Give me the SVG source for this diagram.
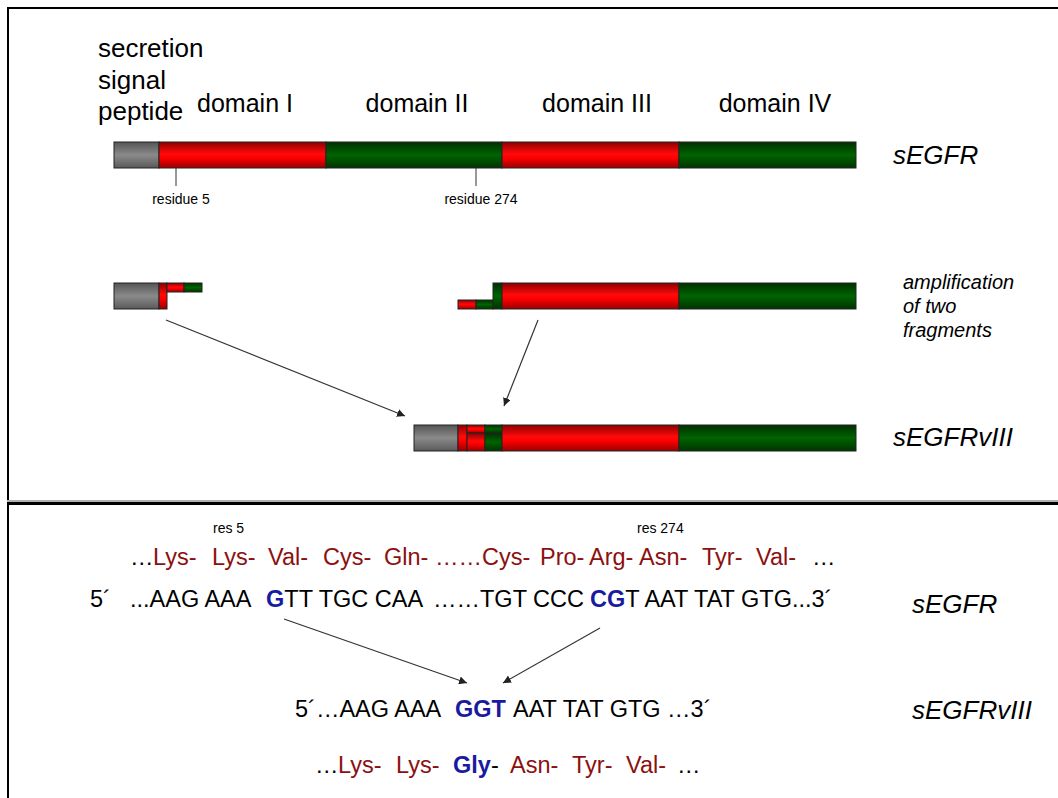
<svg xmlns="http://www.w3.org/2000/svg" width="1058" height="798" viewBox="0 0 1058 798">
<defs>
<linearGradient id="gRed" x1="0" y1="0" x2="0" y2="1">
<stop offset="0" stop-color="#8e0000"/><stop offset="0.45" stop-color="#ff0a0a"/><stop offset="0.6" stop-color="#ff0000"/><stop offset="1" stop-color="#9a0000"/>
</linearGradient>
<linearGradient id="gGreen" x1="0" y1="0" x2="0" y2="1">
<stop offset="0" stop-color="#003000"/><stop offset="0.5" stop-color="#006400"/><stop offset="1" stop-color="#003400"/>
</linearGradient>
<linearGradient id="gGray" x1="0" y1="0" x2="0" y2="1">
<stop offset="0" stop-color="#555555"/><stop offset="0.5" stop-color="#8a8a8a"/><stop offset="1" stop-color="#5a5a5a"/>
</linearGradient>
<marker id="ah" viewBox="0 0 10 10" refX="10" refY="5" markerWidth="8" markerHeight="8" markerUnits="userSpaceOnUse" orient="auto">
<path d="M0,0 L10,5 L0,10 z" fill="#222"/>
</marker>
<style>
.r{fill:url(#gRed);stroke:#222;stroke-width:1}
.g{fill:url(#gGreen);stroke:#222;stroke-width:1}
.k{fill:url(#gGray);stroke:#222;stroke-width:1}
.t{font-family:"Liberation Sans",Arial,sans-serif;fill:#000}
.big{font-size:25px}
.it{font-style:italic;font-size:26px}
.sm{font-size:14px}
.seq{font-size:23.5px}
.aa{fill:#8c1010}
.bl{fill:#1a1aa0;font-weight:bold}
.conn{stroke:#333;stroke-width:1.2;fill:none;marker-end:url(#ah)}
</style>
</defs>
<rect x="0" y="0" width="1058" height="798" fill="#fff"/>
<g id="frame">
<rect x="7" y="7" width="1051" height="2" fill="#000"/>
<rect x="7" y="7" width="2" height="791" fill="#000"/>
<rect x="7" y="500" width="1051" height="2" fill="#b0b0b0"/>
<rect x="7" y="502" width="1051" height="3" fill="#000"/>
</g>
<g id="labels-top">
<text class="t" font-size="26" x="98" y="57">secretion</text>
<text class="t" font-size="26" x="98" y="89">signal</text>
<text class="t" font-size="26" x="98" y="120">peptide</text>
<text class="t big" x="245" y="112" text-anchor="middle">domain I</text>
<text class="t big" x="417" y="112" text-anchor="middle">domain II</text>
<text class="t big" x="597" y="112" text-anchor="middle">domain III</text>
<text class="t big" x="775" y="112" text-anchor="middle">domain IV</text>
</g>
<g id="sEGFR-bar">
<rect class="k" x="114" y="142" width="45" height="26"/>
<rect class="r" x="159" y="142" width="167" height="26"/>
<rect class="g" x="326" y="142" width="176" height="26"/>
<rect class="r" x="502" y="142" width="177" height="26"/>
<rect class="g" x="679" y="142" width="177" height="26"/>
<text class="t it" x="893" y="164">sEGFR</text>
</g>
<g id="residue-marks">
<line x1="176" y1="168" x2="176" y2="186" stroke="#333" stroke-width="1"/>
<line x1="476" y1="168" x2="476" y2="186" stroke="#333" stroke-width="1"/>
<text class="t sm" x="181" y="204" text-anchor="middle">residue 5</text>
<text class="t sm" x="481" y="204" text-anchor="middle">residue 274</text>
</g>
<g id="fragment1">
<rect class="k" x="114" y="283" width="45" height="26"/>
<rect class="r" x="159" y="283" width="8" height="26"/>
<rect class="r" x="167" y="283" width="17" height="9"/>
<rect class="g" x="184" y="283" width="18" height="9"/>
</g>
<g id="fragment2">
<rect class="r" x="458" y="300" width="18" height="9"/>
<rect class="g" x="476" y="300" width="17" height="9"/>
<rect class="g" x="493" y="283" width="9" height="26"/>
<rect class="r" x="502" y="283" width="177" height="26"/>
<rect class="g" x="679" y="283" width="177" height="26"/>
</g>
<g id="amp-label">
<text class="t" font-size="20" font-style="italic" x="903" y="289">amplification</text>
<text class="t" font-size="20" font-style="italic" x="903" y="313">of two</text>
<text class="t" font-size="20" font-style="italic" x="903" y="337">fragments</text>
</g>
<g id="sEGFRvIII-bar">
<rect class="k" x="414" y="425" width="44" height="26"/>
<rect class="r" x="458" y="425" width="9" height="26"/>
<rect class="r" x="467" y="425" width="18" height="8"/>
<rect class="r" x="467" y="433" width="18" height="18"/>
<rect class="g" x="485" y="425" width="17" height="8"/>
<rect class="g" x="485" y="433" width="17" height="18"/>
<rect class="r" x="502" y="425" width="177" height="26"/>
<rect class="g" x="679" y="425" width="177" height="26"/>
<text class="t it" x="893" y="446">sEGFRvIII</text>
</g>
<g id="connectors">
<line class="conn" x1="166" y1="320" x2="405" y2="416"/>
<line class="conn" x1="538" y1="320" x2="504" y2="406"/>
<line class="conn" x1="284" y1="619" x2="467" y2="683"/>
<line class="conn" x1="600" y1="628" x2="503" y2="683"/>
</g>
<g id="sequence-sEGFR">
<text class="t sm" x="213" y="533">res 5</text>
<text class="t sm" x="637" y="533">res 274</text>
<text class="t seq" y="565"><tspan x="130">…</tspan><tspan class="aa" x="153">Lys-</tspan><tspan class="aa" x="212">Lys-</tspan><tspan class="aa" x="268">Val-</tspan><tspan class="aa" x="323">Cys-</tspan><tspan class="aa" x="384">Gln-</tspan><tspan class="aa" x="435">……Cys-</tspan><tspan class="aa" x="540">Pro-</tspan><tspan class="aa" x="589">Arg-</tspan><tspan class="aa" x="639">Asn-</tspan><tspan class="aa" x="702">Tyr-</tspan><tspan class="aa" x="756">Val-</tspan><tspan x="812">…</tspan></text>
<text class="t seq" y="607"><tspan x="90">5´</tspan><tspan x="130">...AAG AAA</tspan><tspan class="bl" x="266">G</tspan><tspan>TT TGC CAA</tspan><tspan x="433">……TGT CCC</tspan><tspan class="bl" x="590">CG</tspan><tspan>T AAT TAT GTG...3´</tspan></text>
<text class="t it" x="912" y="613">sEGFR</text>
</g>
<g id="sequence-sEGFRvIII">
<text class="t seq" y="717"><tspan x="295">5´…AAG AAA</tspan><tspan class="bl" x="455">GGT</tspan><tspan x="513">AAT TAT GTG …3´</tspan></text>
<text class="t seq" y="773"><tspan x="315">…</tspan><tspan class="aa" x="338">Lys-</tspan><tspan class="aa" x="396">Lys-</tspan><tspan class="bl" x="453">Gly</tspan><tspan>-</tspan><tspan class="aa" x="510">Asn-</tspan><tspan class="aa" x="572">Tyr-</tspan><tspan class="aa" x="626">Val-</tspan><tspan x="677">…</tspan></text>
<text class="t it" x="912" y="719">sEGFRvIII</text>
</g>
</svg>
